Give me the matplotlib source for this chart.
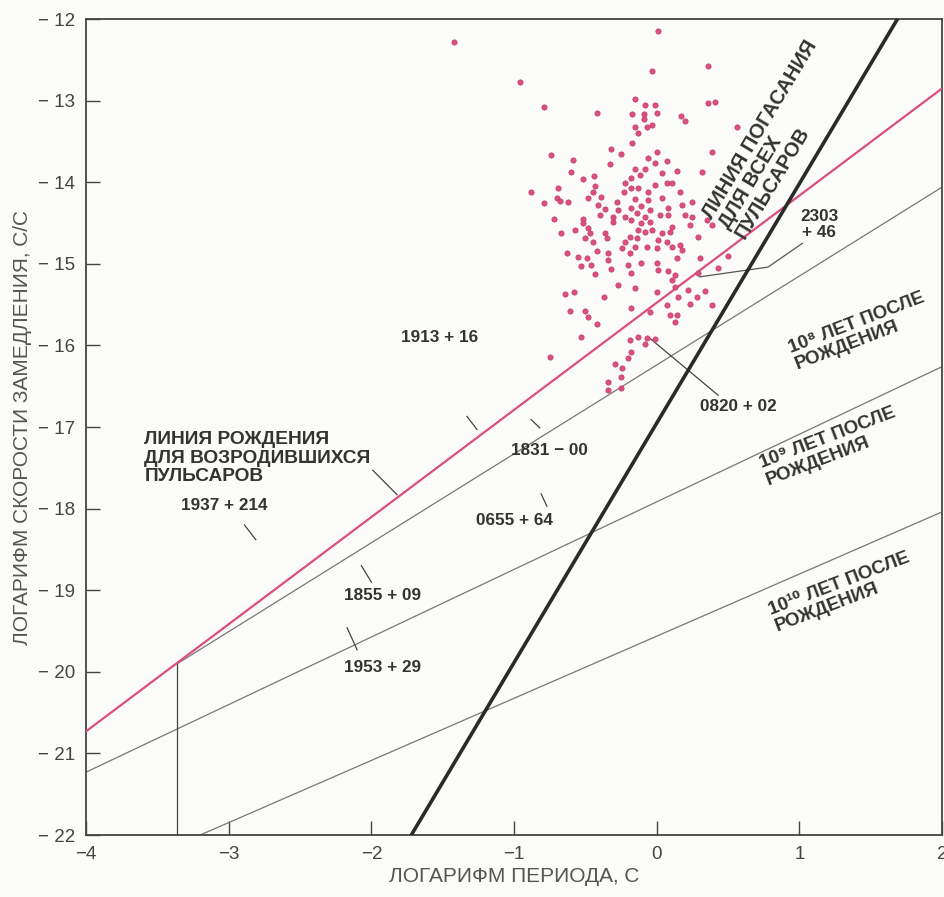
#!/usr/bin/env python3
"""Pulsar P-Pdot diagram (Russian labels)."""

from matplotlib import pyplot as plt
import numpy

# pulsars: log period (s), log period derivative (s/s)
dot_logp = [
    -1.42, 0.01, -0.03, 0.36, -0.96, -0.79, -0.42, -0.15, -0.08, -0.01,
    -0.17, -0.09, -0.09, 0.00, 0.17, 0.20, -0.15, -0.07, -0.03, 0.36,
    0.41, 0.56, 0.39,
    -0.74, -0.59, -0.60, -0.33, -0.32, -0.25, -0.44, -0.52, -0.43, -0.45,
    -0.69, -0.88, -0.79, -0.70, -0.68, -0.62, -0.48, -0.39, -0.41, -0.28,
    -0.22, -0.23, -0.36, -0.31, -0.27, -0.72, -0.52,
    -0.13, -0.17, 0.00, -0.06, 0.07, -0.01, -0.08, -0.15, 0.04, 0.32,
    0.14, -0.12, -0.18, -0.01, 0.07, 0.11, -0.18, -0.13, -0.06, 0.16,
    -0.15, -0.06, 0.04, 0.25, -0.11, -0.18, 0.08, 0.18, -0.05, -0.14,
    0.02, 0.08, -0.08, 0.20, 0.25,
    -0.22, 0.23, 0.29, -0.18, -0.11, -0.05, -0.03, -0.08, -0.13, 0.04,
    0.11, 0.09, -0.19, -0.14, 0.01, 0.07, -0.22, -0.24, -0.15, -0.07,
    0.00, 0.11, 0.16, 0.18, -0.19, -0.11, 0.00, 0.14, 0.30, -0.20,
    -0.18, 0.01, 0.08, 0.13, 0.11, 0.29, 0.43, -0.15, 0.00, 0.13,
    0.22, 0.34, 0.15, 0.28, -0.18, 0.07, 0.23, 0.39, 0.50,
    -0.67, -0.63, -0.57, -0.52, -0.48, -0.47, -0.50, -0.45, -0.40, -0.36,
    -0.35, -0.42, -0.34, -0.55, -0.49, -0.34, -0.53, -0.46, -0.32, -0.43,
    -0.31, -0.27, -0.64, -0.58, -0.37,
    -0.61, -0.50, -0.48, -0.42, -0.53, -0.05, -0.19, -0.13, -0.07, -0.01,
    -0.08, -0.18, -0.20, -0.29, -0.24, -0.25, -0.34, -0.34, -0.25, 0.09,
    -0.75, 0.14, 0.13, 0.35, 0.39,
]
dot_logpdot = [
    -12.28, -12.15, -12.64, -12.58, -12.77, -13.08, -13.15, -12.98, -13.05, -13.05,
    -13.16, -13.16, -13.23, -13.15, -13.19, -13.25, -13.32, -13.32, -13.30, -13.03,
    -13.02, -13.32, -13.63,
    -13.67, -13.73, -13.88, -13.78, -13.59, -13.65, -13.92, -13.96, -14.05, -14.12,
    -14.07, -14.12, -14.25, -14.19, -14.23, -14.24, -14.19, -14.18, -14.28, -14.24,
    -14.01, -14.12, -14.33, -14.43, -14.34, -14.45, -14.45,
    -13.40, -13.52, -13.63, -13.70, -13.74, -13.76, -13.84, -13.84, -13.89, -13.88,
    -13.86, -13.91, -13.95, -14.03, -14.01, -14.01, -14.07, -14.07, -14.12, -14.12,
    -14.21, -14.22, -14.19, -14.24, -14.29, -14.32, -14.32, -14.28, -14.34, -14.38,
    -14.40, -14.40, -14.43, -14.40, -14.43,
    -14.43, -14.52, -14.67, -14.46, -14.50, -14.49, -14.59, -14.61, -14.59, -14.62,
    -14.55, -14.61, -14.67, -14.68, -14.71, -14.73, -14.73, -14.81, -14.79, -14.79,
    -14.81, -14.79, -14.77, -14.83, -14.87, -14.99, -14.99, -14.93, -14.93, -15.01,
    -15.11, -15.08, -15.09, -15.14, -15.20, -15.11, -15.05, -15.30, -15.35, -15.28,
    -15.32, -15.33, -15.41, -15.41, -15.54, -15.50, -15.49, -15.50, -14.90,
    -14.62, -14.87, -14.59, -14.50, -14.56, -14.62, -14.68, -14.73, -14.40, -14.62,
    -14.68, -14.84, -14.87, -14.92, -14.93, -14.95, -15.03, -15.01, -15.06, -15.13,
    -14.49, -15.26, -15.37, -15.35, -15.41,
    -15.58, -15.58, -15.65, -15.74, -15.90, -15.59, -15.93, -15.90, -15.91, -15.92,
    -15.98, -16.08, -16.15, -16.23, -16.28, -16.39, -16.45, -16.55, -16.52, -15.63,
    -16.14, -15.63, -15.71, -14.46, -14.52,
]

# lines: (x0, y0, x1, y1)
birth_line = (-4.0, -20.73, 2.0, -12.85)
death_line = (-1.72, -22.0, 1.687, -12.0)
age_lines = {
    "1e8": (-3.36, -19.9, 2.0, -14.06),
    "1e9": (-4.0, -21.23, 2.0, -16.26),
    "1e10": (-3.2, -22.0, 2.0, -18.04),
}
cutoff_line = (-3.36, -22.0, -3.36, -19.9)

# named pulsars: label, text position, leader start, leader end
named = [
    ("1913 + 16", (-1.52, -15.90), (-1.33, -16.87), (-1.26, -17.03)),
    ("1831 \u2212 00", (-0.75, -17.29), (-0.88, -16.91), (-0.82, -17.01)),
    ("0655 + 64", (-1.00, -18.14), (-0.77, -17.97), (-0.81, -17.82)),
    ("0820 + 02", (0.57, -16.75), (0.43, -16.61), (-0.05, -15.91)),
    ("1937 + 214", (-3.03, -17.96), (-2.89, -18.20), (-2.81, -18.38)),
    ("1855 + 09", (-1.92, -19.07), (-2.00, -18.90), (-2.07, -18.70)),
    ("1953 + 29", (-1.92, -19.95), (-2.10, -19.73), (-2.17, -19.46)),
]
pulsar_2303 = [(0.30, 0.78, 1.02), (-15.16, -15.04, -14.75)]

xticks = [-4, -3, -2, -1, 0, 1, 2]
yticks = list(range(-22, -11))

PINK = "#dc4f7c"
TEXT = "#333333"
LABEL_FONT = ["Liberation Sans", "DejaVu Sans"]
NARROW_FONT = ["Liberation Sans Narrow", "Liberation Sans", "DejaVu Sans"]


def main():
    fig = plt.figure(figsize=(9.44, 8.97), dpi=100, facecolor="#fbfbf8")
    ax = fig.add_axes([0.0911, 0.0691, 0.9069, 0.9097])
    ax.set_facecolor("#fbfbf8")

    x0, y0, x1, y1 = birth_line
    ax.plot([x0, x1], [y0, y1], color=PINK, lw=1.6, zorder=3)
    for x0, y0, x1, y1 in age_lines.values():
        ax.plot([x0, x1], [y0, y1], color="#777777", lw=0.9, zorder=2)
    x0, y0, x1, y1 = cutoff_line
    ax.plot([x0, x1], [y0, y1], color="#444444", lw=0.9, zorder=2)
    x0, y0, x1, y1 = death_line
    ax.plot([x0, x1], [y0, y1], color="#2a2a2a", lw=2.6, zorder=4)

    ax.plot(dot_logp, dot_logpdot, "o", color=PINK, markersize=3.8,
            markeredgecolor="#c0406a", markeredgewidth=0.5, zorder=5)

    kw = dict(family=LABEL_FONT, fontweight="bold", color=TEXT, fontsize=12.3)
    for name, txt, start, end in named:
        ax.text(txt[0], txt[1], name, ha="center", va="center", **kw)
        ax.plot([start[0], end[0]], [start[1], end[1]], color="#444444",
                lw=0.9, zorder=3)
    ax.plot(pulsar_2303[0], pulsar_2303[1], color="#555555", lw=0.9, zorder=3)
    ax.text(1.14, -14.52, "2303\n+ 46", ha="center", va="center",
            linespacing=1.1, **kw)

    kw["fontsize"] = 13.8
    ax.text(-3.59, -17.38, "ЛИНИЯ РОЖДЕНИЯ\nДЛЯ ВОЗРОДИВШИХСЯ\nПУЛЬСАРОВ",
            ha="left", va="center", linespacing=1.1, **kw)
    ax.plot([-1.99, -1.82], [-17.53, -17.83], color="#444444", lw=0.9)

    kw["fontsize"] = 14.5
    ax.text(0.47, -14.55, "ЛИНИЯ ПОГАСАНИЯ\nДЛЯ ВСЕХ\nПУЛЬСАРОВ",
            ha="left", va="center", rotation=59, rotation_mode="anchor",
            multialignment="left", linespacing=1.0, **kw)

    kw["fontsize"] = 13.5
    age_kw = dict(ha="center", va="center", rotation=21,
                  rotation_mode="anchor", multialignment="left",
                  linespacing=1.05)
    ax.text(1.42, -15.82, "10\u2078 ЛЕТ ПОСЛЕ\nРОЖДЕНИЯ", **age_kw, **kw)
    ax.text(1.22, -17.24, "10\u2079 ЛЕТ ПОСЛЕ\nРОЖДЕНИЯ", **age_kw, **kw)
    ax.text(1.30, -19.02, "10\u00b9\u2070 ЛЕТ ПОСЛЕ\nРОЖДЕНИЯ", **age_kw, **kw)

    ax.set_xlim(-4, 2)
    ax.set_ylim(-22, -12)
    ax.set_xticks(xticks)
    ax.set_xticklabels([str(v).replace("-", "\u2212") for v in xticks],
                       family=NARROW_FONT, fontsize=13.5, color="#444444")
    ax.set_yticks(yticks)
    ax.set_yticklabels([str(v).replace("-", "\u2212 ") for v in yticks],
                       family=NARROW_FONT, fontsize=13.5, color="#444444")
    ax.tick_params(direction="in", length=10, width=1.0, color="#444444",
                   pad=8)
    for spine in ax.spines.values():
        spine.set_color("#444444")
        spine.set_linewidth(1.3)

    ax.set_xlabel("ЛОГАРИФМ ПЕРИОДА, С", family=NARROW_FONT, fontsize=15,
                  color="#555555", labelpad=3)
    ax.set_ylabel("ЛОГАРИФМ СКОРОСТИ ЗАМЕДЛЕНИЯ, С/С", family=NARROW_FONT,
                  fontsize=15, color="#555555", labelpad=4)

    fig.savefig("out.png", dpi=100, facecolor=fig.get_facecolor())


if __name__ == "__main__":
    main()
